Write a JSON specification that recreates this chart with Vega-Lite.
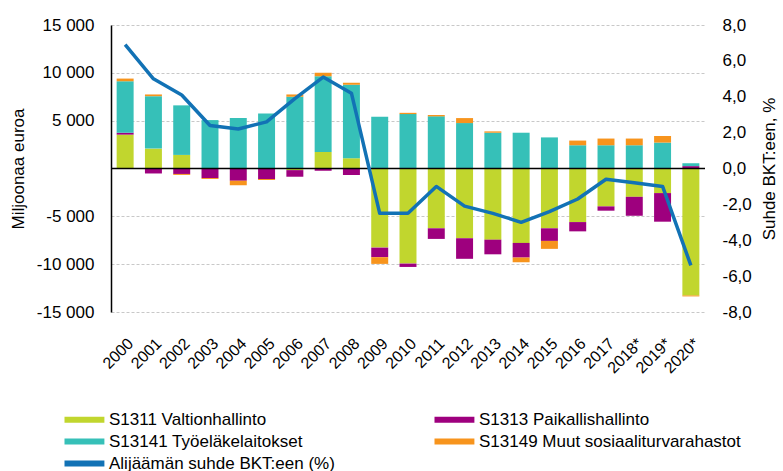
{
  "$schema": "https://vega.github.io/schema/vega-lite/v6.json",
  "autosize": {"type": "none"},
  "padding": {"left": 111, "top": 25, "right": 78, "bottom": 159},
  "width": 594,
  "height": 287,
  "config": {
    "font": "Liberation Sans",
    "view": {"stroke": null},
    "axis": {"labelColor": "#000", "titleColor": "#000", "titleFontWeight": "normal"}
  },
  "datasets": {
    "bars": [
      {"vuosi": "2000", "sarja": "S1311 Valtionhallinto", "jarj": 1, "arvo": 3540},
      {"vuosi": "2000", "sarja": "S1313 Paikallishallinto", "jarj": 2, "arvo": 200},
      {"vuosi": "2000", "sarja": "S13141 Työeläkelaitokset", "jarj": 3, "arvo": 5380},
      {"vuosi": "2000", "sarja": "S13149  Muut sosiaaliturvarahastot", "jarj": 4, "arvo": 280},
      {"vuosi": "2001", "sarja": "S1311 Valtionhallinto", "jarj": 1, "arvo": 2080},
      {"vuosi": "2001", "sarja": "S1313 Paikallishallinto", "jarj": 2, "arvo": -520},
      {"vuosi": "2001", "sarja": "S13141 Työeläkelaitokset", "jarj": 3, "arvo": 5480},
      {"vuosi": "2001", "sarja": "S13149  Muut sosiaaliturvarahastot", "jarj": 4, "arvo": 180},
      {"vuosi": "2002", "sarja": "S1311 Valtionhallinto", "jarj": 1, "arvo": 1420},
      {"vuosi": "2002", "sarja": "S1313 Paikallishallinto", "jarj": 2, "arvo": -570},
      {"vuosi": "2002", "sarja": "S13141 Työeläkelaitokset", "jarj": 3, "arvo": 5180},
      {"vuosi": "2002", "sarja": "S13149  Muut sosiaaliturvarahastot", "jarj": 4, "arvo": -100},
      {"vuosi": "2003", "sarja": "S1313 Paikallishallinto", "jarj": 2, "arvo": -1000},
      {"vuosi": "2003", "sarja": "S13141 Työeläkelaitokset", "jarj": 3, "arvo": 5060},
      {"vuosi": "2003", "sarja": "S13149  Muut sosiaaliturvarahastot", "jarj": 4, "arvo": -100},
      {"vuosi": "2004", "sarja": "S1313 Paikallishallinto", "jarj": 2, "arvo": -1290},
      {"vuosi": "2004", "sarja": "S13141 Työeläkelaitokset", "jarj": 3, "arvo": 5270},
      {"vuosi": "2004", "sarja": "S13149  Muut sosiaaliturvarahastot", "jarj": 4, "arvo": -450},
      {"vuosi": "2005", "sarja": "S1313 Paikallishallinto", "jarj": 2, "arvo": -1110},
      {"vuosi": "2005", "sarja": "S13141 Työeläkelaitokset", "jarj": 3, "arvo": 5760},
      {"vuosi": "2005", "sarja": "S13149  Muut sosiaaliturvarahastot", "jarj": 4, "arvo": -100},
      {"vuosi": "2006", "sarja": "S1311 Valtionhallinto", "jarj": 1, "arvo": -170},
      {"vuosi": "2006", "sarja": "S1313 Paikallishallinto", "jarj": 2, "arvo": -690},
      {"vuosi": "2006", "sarja": "S13141 Työeläkelaitokset", "jarj": 3, "arvo": 7500},
      {"vuosi": "2006", "sarja": "S13149  Muut sosiaaliturvarahastot", "jarj": 4, "arvo": 240},
      {"vuosi": "2007", "sarja": "S1311 Valtionhallinto", "jarj": 1, "arvo": 1730},
      {"vuosi": "2007", "sarja": "S1313 Paikallishallinto", "jarj": 2, "arvo": -240},
      {"vuosi": "2007", "sarja": "S13141 Työeläkelaitokset", "jarj": 3, "arvo": 7920},
      {"vuosi": "2007", "sarja": "S13149  Muut sosiaaliturvarahastot", "jarj": 4, "arvo": 350},
      {"vuosi": "2008", "sarja": "S1311 Valtionhallinto", "jarj": 1, "arvo": 1070},
      {"vuosi": "2008", "sarja": "S1313 Paikallishallinto", "jarj": 2, "arvo": -690},
      {"vuosi": "2008", "sarja": "S13141 Työeläkelaitokset", "jarj": 3, "arvo": 7680},
      {"vuosi": "2008", "sarja": "S13149  Muut sosiaaliturvarahastot", "jarj": 4, "arvo": 210},
      {"vuosi": "2009", "sarja": "S1311 Valtionhallinto", "jarj": 1, "arvo": -8270},
      {"vuosi": "2009", "sarja": "S1313 Paikallishallinto", "jarj": 2, "arvo": -1000},
      {"vuosi": "2009", "sarja": "S13141 Työeläkelaitokset", "jarj": 3, "arvo": 5400},
      {"vuosi": "2009", "sarja": "S13149  Muut sosiaaliturvarahastot", "jarj": 4, "arvo": -700},
      {"vuosi": "2010", "sarja": "S1311 Valtionhallinto", "jarj": 1, "arvo": -9940},
      {"vuosi": "2010", "sarja": "S1313 Paikallishallinto", "jarj": 2, "arvo": -350},
      {"vuosi": "2010", "sarja": "S13141 Työeläkelaitokset", "jarj": 3, "arvo": 5690},
      {"vuosi": "2010", "sarja": "S13149  Muut sosiaaliturvarahastot", "jarj": 4, "arvo": 130},
      {"vuosi": "2011", "sarja": "S1311 Valtionhallinto", "jarj": 1, "arvo": -6250},
      {"vuosi": "2011", "sarja": "S1313 Paikallishallinto", "jarj": 2, "arvo": -1110},
      {"vuosi": "2011", "sarja": "S13141 Työeläkelaitokset", "jarj": 3, "arvo": 5450},
      {"vuosi": "2011", "sarja": "S13149  Muut sosiaaliturvarahastot", "jarj": 4, "arvo": 140},
      {"vuosi": "2012", "sarja": "S1311 Valtionhallinto", "jarj": 1, "arvo": -7290},
      {"vuosi": "2012", "sarja": "S1313 Paikallishallinto", "jarj": 2, "arvo": -2150},
      {"vuosi": "2012", "sarja": "S13141 Työeläkelaitokset", "jarj": 3, "arvo": 4750},
      {"vuosi": "2012", "sarja": "S13149  Muut sosiaaliturvarahastot", "jarj": 4, "arvo": 520},
      {"vuosi": "2013", "sarja": "S1311 Valtionhallinto", "jarj": 1, "arvo": -7440},
      {"vuosi": "2013", "sarja": "S1313 Paikallishallinto", "jarj": 2, "arvo": -1530},
      {"vuosi": "2013", "sarja": "S13141 Työeläkelaitokset", "jarj": 3, "arvo": 3740},
      {"vuosi": "2013", "sarja": "S13149  Muut sosiaaliturvarahastot", "jarj": 4, "arvo": 140},
      {"vuosi": "2014", "sarja": "S1311 Valtionhallinto", "jarj": 1, "arvo": -7780},
      {"vuosi": "2014", "sarja": "S1313 Paikallishallinto", "jarj": 2, "arvo": -1530},
      {"vuosi": "2014", "sarja": "S13141 Työeläkelaitokset", "jarj": 3, "arvo": 3740},
      {"vuosi": "2014", "sarja": "S13149  Muut sosiaaliturvarahastot", "jarj": 4, "arvo": -490},
      {"vuosi": "2015", "sarja": "S1311 Valtionhallinto", "jarj": 1, "arvo": -6250},
      {"vuosi": "2015", "sarja": "S1313 Paikallishallinto", "jarj": 2, "arvo": -1320},
      {"vuosi": "2015", "sarja": "S13141 Työeläkelaitokset", "jarj": 3, "arvo": 3250},
      {"vuosi": "2015", "sarja": "S13149  Muut sosiaaliturvarahastot", "jarj": 4, "arvo": -830},
      {"vuosi": "2016", "sarja": "S1311 Valtionhallinto", "jarj": 1, "arvo": -5600},
      {"vuosi": "2016", "sarja": "S1313 Paikallishallinto", "jarj": 2, "arvo": -970},
      {"vuosi": "2016", "sarja": "S13141 Työeläkelaitokset", "jarj": 3, "arvo": 2430},
      {"vuosi": "2016", "sarja": "S13149  Muut sosiaaliturvarahastot", "jarj": 4, "arvo": 490},
      {"vuosi": "2017", "sarja": "S1311 Valtionhallinto", "jarj": 1, "arvo": -3960},
      {"vuosi": "2017", "sarja": "S1313 Paikallishallinto", "jarj": 2, "arvo": -450},
      {"vuosi": "2017", "sarja": "S13141 Työeläkelaitokset", "jarj": 3, "arvo": 2430},
      {"vuosi": "2017", "sarja": "S13149  Muut sosiaaliturvarahastot", "jarj": 4, "arvo": 700},
      {"vuosi": "2018*", "sarja": "S1311 Valtionhallinto", "jarj": 1, "arvo": -2960},
      {"vuosi": "2018*", "sarja": "S1313 Paikallishallinto", "jarj": 2, "arvo": -1980},
      {"vuosi": "2018*", "sarja": "S13141 Työeläkelaitokset", "jarj": 3, "arvo": 2430},
      {"vuosi": "2018*", "sarja": "S13149  Muut sosiaaliturvarahastot", "jarj": 4, "arvo": 700},
      {"vuosi": "2019*", "sarja": "S1311 Valtionhallinto", "jarj": 1, "arvo": -2570},
      {"vuosi": "2019*", "sarja": "S1313 Paikallishallinto", "jarj": 2, "arvo": -2990},
      {"vuosi": "2019*", "sarja": "S13141 Työeläkelaitokset", "jarj": 3, "arvo": 2710},
      {"vuosi": "2019*", "sarja": "S13149  Muut sosiaaliturvarahastot", "jarj": 4, "arvo": 690},
      {"vuosi": "2020*", "sarja": "S1311 Valtionhallinto", "jarj": 1, "arvo": -13270},
      {"vuosi": "2020*", "sarja": "S1313 Paikallishallinto", "jarj": 2, "arvo": 250},
      {"vuosi": "2020*", "sarja": "S13141 Työeläkelaitokset", "jarj": 3, "arvo": 300},
      {"vuosi": "2020*", "sarja": "S13149  Muut sosiaaliturvarahastot", "jarj": 4, "arvo": -100}
    ],
    "suhde": [
      {"vuosi": "2000", "suhde": 6.9},
      {"vuosi": "2001", "suhde": 5.0},
      {"vuosi": "2002", "suhde": 4.1},
      {"vuosi": "2003", "suhde": 2.4},
      {"vuosi": "2004", "suhde": 2.2},
      {"vuosi": "2005", "suhde": 2.6},
      {"vuosi": "2006", "suhde": 3.9},
      {"vuosi": "2007", "suhde": 5.1},
      {"vuosi": "2008", "suhde": 4.2},
      {"vuosi": "2009", "suhde": -2.5},
      {"vuosi": "2010", "suhde": -2.5},
      {"vuosi": "2011", "suhde": -1.0},
      {"vuosi": "2012", "suhde": -2.1},
      {"vuosi": "2013", "suhde": -2.5},
      {"vuosi": "2014", "suhde": -3.0},
      {"vuosi": "2015", "suhde": -2.4},
      {"vuosi": "2016", "suhde": -1.7},
      {"vuosi": "2017", "suhde": -0.6},
      {"vuosi": "2018*", "suhde": -0.8},
      {"vuosi": "2019*", "suhde": -1.0},
      {"vuosi": "2020*", "suhde": -5.4}
    ]
  },
  "layer": [
    {
      "layer": [
        {
          "data": {"name": "bars"},
          "mark": {"type": "bar"},
          "encoding": {
            "x": {
              "field": "vuosi", "type": "ordinal", "sort": null,
              "scale": {"paddingInner": 0.4, "paddingOuter": 0.2},
              "axis": {"title": null, "labelAngle": -45, "labelFontSize": 16, "ticks": false, "domain": false, "labelPadding": 23}
            },
            "y": {
              "field": "arvo", "type": "quantitative", "stack": "zero",
              "scale": {"domain": [-15000, 15000], "nice": false},
              "axis": {
                "title": "Miljoonaa euroa", "titleFontSize": 17, "titlePadding": 9,
                "labelFontSize": 17, "ticks": false, "labelPadding": 17,
                "domainColor": "#000", "domainWidth": 1.5,
                "grid": true, "gridDash": [3, 2], "gridColor": "#c8c8c8",
                "values": [-15000, -10000, -5000, 5000, 10000, 15000],
                "labelExpr": "(datum.value < 0 ? '-' : '') + replace(format(abs(datum.value), ','), ',', ' ')"
              }
            },
            "color": {
              "field": "sarja", "type": "nominal",
              "scale": {
                "domain": ["S1311 Valtionhallinto", "S1313 Paikallishallinto", "S13141 Työeläkelaitokset", "S13149  Muut sosiaaliturvarahastot", "Alijäämän suhde BKT:een (%)"],
                "range": ["#c1d62e", "#9e007e", "#36c0b8", "#f7941d", "#1272b5"]
              },
              "legend": {
                "title": null, "orient": "none", "legendX": -48, "legendY": 386,
                "direction": "horizontal", "columns": 2, "columnPadding": 98, "rowPadding": 4,
                "symbolType": "M-1,-0.43H4.7V0.43H-1Z", "symbolSize": 196, "symbolStrokeWidth": 0,
                "labelFontSize": 17, "labelOffset": 29, "labelColor": "#000", "padding": 0, "labelLimit": 400
              }
            },
            "order": {"field": "jarj", "type": "quantitative"}
          }
        },
        {
          "data": {"values": [{}]},
          "mark": {"type": "rule", "color": "#000", "strokeWidth": 1.5},
          "encoding": {"y": {"datum": 0}}
        }
      ]
    },
    {
      "data": {"name": "suhde"},
      "mark": {"type": "line", "strokeWidth": 3.5, "strokeJoin": "round"},
      "encoding": {
        "x": {
          "field": "vuosi", "type": "ordinal", "sort": null,
          "axis": {"title": null, "labelAngle": -45, "labelFontSize": 16, "ticks": false, "domain": false, "labelPadding": 23}
        },
        "y": {
          "field": "suhde", "type": "quantitative",
          "scale": {"domain": [-8, 8], "nice": false},
          "axis": {
            "orient": "right", "title": "Suhde BKT:een, %", "titleFontSize": 17, "titleAngle": 270, "titleBaseline": "top", "titlePadding": 10,
            "labelFontSize": 17, "ticks": false, "domain": false, "grid": false, "labelPadding": 17,
            "values": [-8, -6, -4, -2, 0, 2, 4, 6, 8],
            "labelExpr": "(datum.value < 0 ? '-' : '') + replace(format(abs(datum.value), '.1f'), '.', ',')"
          }
        },
        "color": {"datum": "Alijäämän suhde BKT:een (%)"}
      }
    }
  ],
  "resolve": {"scale": {"y": "independent"}}
}
